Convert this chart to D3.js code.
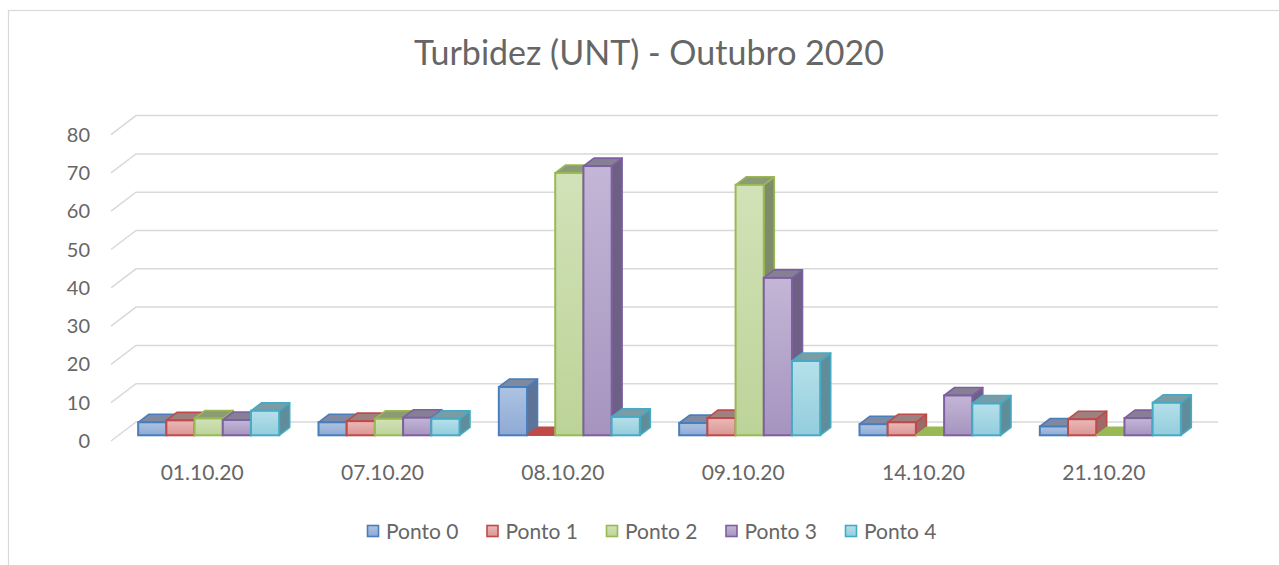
<!DOCTYPE html>
<html>
<head>
<meta charset="utf-8">
<script src="https://cdn.jsdelivr.net/npm/d3@7"></script>
<style>
  body { margin: 0; background: #fff; }
  text { font-family: Lato, "Open Sans", sans-serif; fill: #666666; }
</style>
</head>
<body>
<div id="chart"></div>
<script>
////////////////////////////////////////////////////////////
/////////////////////// Data ///////////////////////////////
////////////////////////////////////////////////////////////

var dates = ["01.10.20", "07.10.20", "08.10.20", "09.10.20", "14.10.20", "21.10.20"];
var seriesNames = ["Ponto 0", "Ponto 1", "Ponto 2", "Ponto 3", "Ponto 4"];
var ponto0 = [3.4, 3.4, 12.6, 3.2, 2.9, 2.3];
var ponto1 = [3.9, 3.7, 0, 4.5, 3.4, 4.2];
var ponto2 = [4.4, 4.3, 68.5, 65.4, 0, 0];
var ponto3 = [4.0, 4.6, 70.3, 41.1, 10.4, 4.5];
var ponto4 = [6.4, 4.3, 4.8, 19.4, 8.3, 8.5];
var yTicks = [0, 10, 20, 30, 40, 50, 60, 70, 80];
var chartTitle = "Turbidez (UNT) - Outubro 2020";

var seriesValues = [ponto0, ponto1, ponto2, ponto3, ponto4];

//stroke, front top, front bottom, side, top
var palette = [
	{stroke: "#4a7ebb", c1: "#adc3e2", c2: "#8eaad5", side: "#5d7398", top: "#7e8aa2"},
	{stroke: "#be4b48", c1: "#eab9b7", c2: "#d99694", side: "#9d6a68", top: "#9c8180"},
	{stroke: "#98b954", c1: "#d2e2b8", c2: "#bcd398", side: "#7f8c69", top: "#8c9a76"},
	{stroke: "#7d60a0", c1: "#c3b6d6", c2: "#a694bf", side: "#6e6084", top: "#878095"},
	{stroke: "#46aac5", c1: "#b6e0ea", c2: "#93cddd", side: "#5f8d9a", top: "#7b9ba5"}
];

////////////////////////////////////////////////////////////
/////////////////////// Set-up /////////////////////////////
////////////////////////////////////////////////////////////

var width = 1279, height = 565;
var depthX = 25, depthY = 19;      //offset from front to back wall
var barFront = 0.3, barBack = 0.72; //depth fraction of the bars

var svg = d3.select("#chart").append("svg")
	.attr("width", width)
	.attr("height", height);

//Chart border
svg.append("rect")
	.attr("x", 8.5).attr("y", 10.5)
	.attr("width", 1400).attr("height", 700)
	.style("fill", "none")
	.style("stroke", "#d9d9d9")
	.style("stroke-width", 1.2);

var x = d3.scaleBand()
	.domain(dates)
	.range([111, 1193]);

var groupWidth = x.bandwidth() * 0.782;

var xInner = d3.scaleBand()
	.domain(seriesNames)
	.range([0, groupWidth]);

var y = d3.scaleLinear()
	.domain([0, 80])
	.range([441, 441 - 306.4]);

var defs = svg.append("defs");
palette.forEach(function(p, i) {
	var g = defs.append("linearGradient")
		.attr("id", "grad-" + i)
		.attr("x1", 0).attr("y1", 0).attr("x2", 0).attr("y2", 1);
	g.append("stop").attr("offset", "0%").attr("stop-color", p.c1);
	g.append("stop").attr("offset", "100%").attr("stop-color", p.c2);
});

////////////////////////////////////////////////////////////
/////////////////////// Title //////////////////////////////
////////////////////////////////////////////////////////////

svg.append("text")
	.attr("x", 649)
	.attr("y", 65)
	.attr("text-anchor", "middle")
	.style("font-size", "34px")
	.text(chartTitle);

////////////////////////////////////////////////////////////
/////////////////////// Gridlines //////////////////////////
////////////////////////////////////////////////////////////

var x0 = x.range()[0], x1 = x.range()[1];

svg.selectAll(".grid")
	.data(yTicks)
	.enter().append("polyline")
	.attr("class", "grid")
	.attr("points", function(d) {
		return [[x0, y(d)], [x0 + depthX, y(d) - depthY], [x1 + depthX, y(d) - depthY]].join(" ");
	})
	.style("fill", "none")
	.style("stroke", "#d9d9d9")
	.style("stroke-width", 1.5);

svg.selectAll(".y-label")
	.data(yTicks)
	.enter().append("text")
	.attr("class", "y-label")
	.attr("x", 90)
	.attr("y", function(d) { return y(d); })
	.attr("dy", "0.35em")
	.attr("text-anchor", "end")
	.style("font-size", "20px")
	.text(function(d) { return d; });

////////////////////////////////////////////////////////////
/////////////////////// Bars ///////////////////////////////
////////////////////////////////////////////////////////////

var bars = [];
dates.forEach(function(date, i) {
	seriesNames.forEach(function(s, j) {
		bars.push({date: date, series: j, value: seriesValues[j][i]});
	});
});

function pt(px, py) { return px.toFixed(1) + "," + py.toFixed(1); }

svg.selectAll(".bar")
	.data(bars)
	.enter().append("g")
	.attr("class", "bar")
	.each(function(d) {
		var g = d3.select(this);
		var p = palette[d.series];
		var bx = x(d.date) + (x.bandwidth() - groupWidth) / 2 + xInner(seriesNames[d.series]) + depthX * barFront;
		var bw = xInner.bandwidth();
		var yb = y(0) - depthY * barFront;
		var yt = y(d.value) - depthY * barFront;
		var dx = depthX * (barBack - barFront), dy = depthY * (barBack - barFront);

		//side face
		g.append("polygon")
			.attr("points", [pt(bx + bw, yt), pt(bx + bw + dx, yt - dy), pt(bx + bw + dx, yb - dy), pt(bx + bw, yb)].join(" "))
			.style("fill", p.side)
			.style("stroke", p.stroke)
			.style("stroke-width", 1.6)
			.style("stroke-linejoin", "round");
		//top face
		g.append("polygon")
			.attr("points", [pt(bx, yt), pt(bx + dx, yt - dy), pt(bx + bw + dx, yt - dy), pt(bx + bw, yt)].join(" "))
			.style("fill", d.value === 0 ? p.stroke : p.top)
			.style("stroke", p.stroke)
			.style("stroke-width", 1.6)
			.style("stroke-linejoin", "round");
		//front face
		g.append("rect")
			.attr("x", bx)
			.attr("y", yt)
			.attr("width", bw)
			.attr("height", Math.max(0, yb - yt))
			.style("fill", "url(#grad-" + d.series + ")")
			.style("stroke", p.stroke)
			.style("stroke-width", 2);
	});

////////////////////////////////////////////////////////////
/////////////////////// X labels ///////////////////////////
////////////////////////////////////////////////////////////

svg.selectAll(".x-label")
	.data(dates)
	.enter().append("text")
	.attr("class", "x-label")
	.attr("x", function(d) { return x(d) + x.bandwidth() / 2 + 1; })
	.attr("y", 480)
	.attr("text-anchor", "middle")
	.style("font-size", "21px")
	.text(function(d) { return d; });

////////////////////////////////////////////////////////////
/////////////////////// Legend /////////////////////////////
////////////////////////////////////////////////////////////

var legend = svg.selectAll(".legend")
	.data(seriesNames)
	.enter().append("g")
	.attr("class", "legend")
	.attr("transform", function(d, i) { return "translate(" + (373 + i * 119.5) + ",531)"; });

legend.append("rect")
	.attr("x", -5.5).attr("y", -5.5)
	.attr("width", 11).attr("height", 11)
	.style("fill", function(d, i) { return "url(#grad-" + i + ")"; })
	.style("stroke", function(d, i) { return palette[i].stroke; })
	.style("stroke-width", 1.6);

legend.append("text")
	.attr("x", 13)
	.attr("dy", "0.36em")
	.style("font-size", "21px")
	.text(function(d) { return d; });
</script>
</body>
</html>
